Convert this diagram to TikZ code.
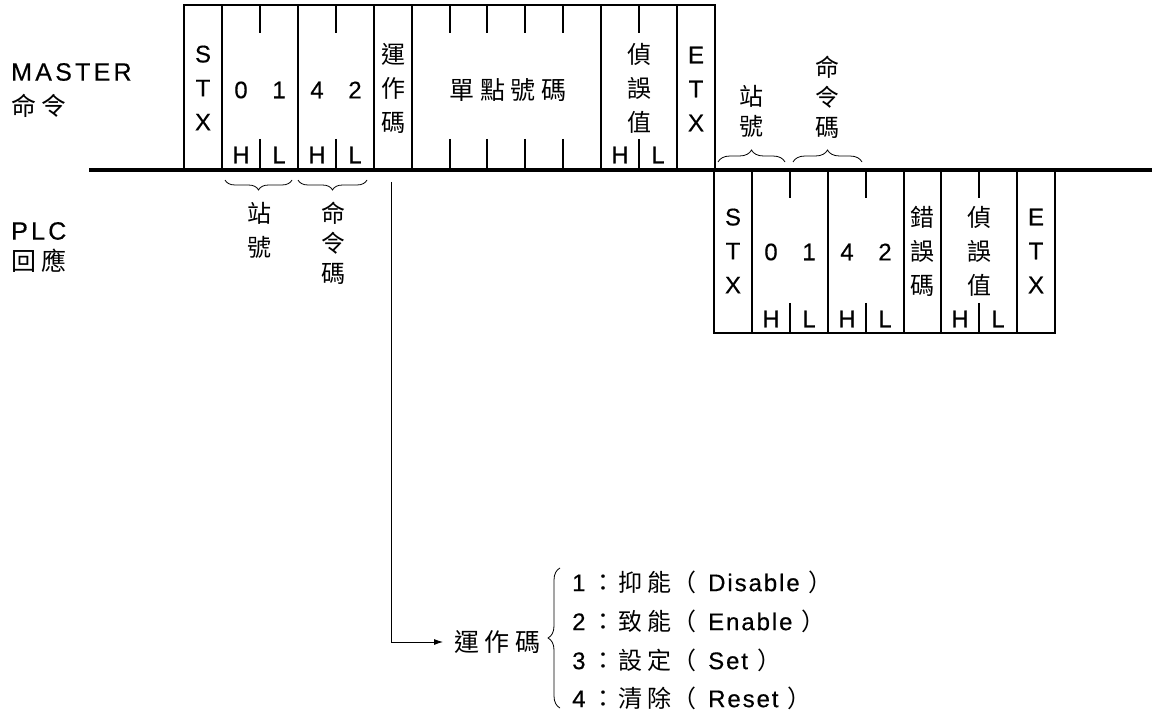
\documentclass[tikz,border=0pt]{standalone}
\usepackage{fontspec}
\setmainfont{Liberation Sans}[LetterSpace=8, FakeBold=0.4]
\newfontfamily\latn{Liberation Sans}[FakeBold=0.4]
\newfontfamily\latw{Liberation Sans}[LetterSpace=13, FakeBold=0.4]
\newfontfamily\cjk{Noto Sans CJK TC}[LetterSpace=22]
\newfontfamily\cjkn{Noto Sans CJK TC}
\newcommand\optrow[3]{\makebox[19pt][l]{\latn #1}\makebox[27pt][l]{\cjkn ：}\makebox[54pt][l]{\cjk #2}\makebox[36pt][l]{\cjkn （}#3\hspace{9pt}{\cjkn ）}}
\usetikzlibrary{decorations.pathreplacing,arrows.meta}
\tikzset{
  frame/.style={line width=2pt},
  bus/.style={line width=4pt},
  lat/.style={font=\latn\fontsize{24}{34}\selectfont, inner sep=0pt, align=center},
  latw/.style={font=\latw\fontsize{25}{34}\selectfont, inner sep=0pt, align=center},
  cj/.style={font=\cjkn\fontsize{24}{34}\selectfont, inner sep=0pt, align=center},
  cjw/.style={font=\cjk\fontsize{25}{34}\selectfont, inner sep=0pt, align=center},
  cjt/.style={font=\cjkn\fontsize{24}{30}\selectfont, inner sep=0pt, align=center},
  brc/.style={decorate, decoration={brace, amplitude=10pt}, line width=0.8pt},
  brcu/.style={decorate, decoration={brace, amplitude=12pt}, line width=0.8pt},
  conn/.style={line width=0.8pt, -{Latex[length=9pt,width=6pt]}},
  item/.style={font=\fontsize{24}{26}\selectfont, inner sep=0pt, anchor=west},
}
\begin{document}
\begin{tikzpicture}[x=1pt,y=-1pt]
\useasboundingbox (0,0) rectangle (1152,714);
% left labels
\node[latw, anchor=west] (master) at (11,72) {MASTER};
\node[cjw, anchor=west] (mcmd) at (11,106) {命令};
\node[latw, anchor=west] (plc) at (11,231) {PLC};
\node[cjw, anchor=west] (presp) at (11,261) {回應};
% bus line
\draw[bus] (89,170) -- (1152,170);
% master frame
\draw[frame] (184,170) -- (184,5) -- (715,5) -- (715,170);
\foreach \i in {1,3,5,6,11,13} \draw[frame] ({184+37.93*\i},5) -- ({184+37.93*\i},170);
\foreach \i in {2,4,7,8,9,10,12} {
  \draw[frame] ({184+37.93*\i},5) -- ({184+37.93*\i},33);
  \draw[frame] ({184+37.93*\i},139) -- ({184+37.93*\i},170);
}
\node[lat] (mstx) at (203,88) {S\\T\\X};
\node[lat] (md0) at (241,90) {0};
\node[lat] (md1) at (279,90) {1};
\node[lat] (md4) at (317,90) {4};
\node[lat] (md2) at (355,90) {2};
\node[lat] (mh1) at (241,155) {H};
\node[lat] (ml1) at (279,155) {L};
\node[lat] (mh2) at (317,155) {H};
\node[lat] (ml2) at (355,155) {L};
\node[cj] (mop) at (393,88) {運\\作\\碼};
\node[cjw] (mpt) at (508,90) {單點號碼};
\node[cj] (mchk) at (639,88) {偵\\誤\\值};
\node[lat] (mh3) at (620,155) {H};
\node[lat] (ml3) at (658,155) {L};
\node[lat] (metx) at (696,89) {E\\T\\X};
% braces under master
\draw[brc] (292,180) -- (225,180);
\draw[brc] (367,180) -- (298,180);
\node[cj] (mst) at (259,230) {站\\號};
\node[cjt] (mcc) at (333,243) {命\\令\\碼};
% response frame
\draw[frame] (714,170) -- (714,333) -- (1055,333) -- (1055,170);
\foreach \i in {1,3,5,6,8} \draw[frame] ({714+37.9*\i},170) -- ({714+37.9*\i},333);
\foreach \i in {2,4,7} {
  \draw[frame] ({714+37.9*\i},170) -- ({714+37.9*\i},198);
  \draw[frame] ({714+37.9*\i},303) -- ({714+37.9*\i},333);
}
\node[lat] (rstx) at (733,251) {S\\T\\X};
\node[lat] (rd0) at (771,252) {0};
\node[lat] (rd1) at (809,252) {1};
\node[lat] (rd4) at (847,252) {4};
\node[lat] (rd2) at (885,252) {2};
\node[lat] (rh1) at (771,319) {H};
\node[lat] (rl1) at (809,319) {L};
\node[lat] (rh2) at (847,319) {H};
\node[lat] (rl2) at (885,319) {L};
\node[cj] (rerr) at (922,251) {錯\\誤\\碼};
\node[cj] (rchk) at (979,251) {偵\\誤\\值};
\node[lat] (rh3) at (960,319) {H};
\node[lat] (rl3) at (998,319) {L};
\node[lat] (retx) at (1036,251) {E\\T\\X};
% braces over response
\draw[brcu] (718,162) -- (785,162);
\draw[brcu] (793,162) -- (862,162);
\node[cjt] (rst) at (751,111) {站\\號};
\node[cjt] (rcc) at (827,97) {命\\令\\碼};
% operation code
\coordinate (opstart) at (391,182);
\node[cjw, anchor=west, inner xsep=11pt] (oplabel) at (443,642) {運作碼};
\draw[conn] (opstart) |- (oplabel.west);
\draw[brc, decoration={amplitude=12pt}] (560,708) -- (560,568);
\node[item] (opt1) at (572,582) {\optrow{1}{抑能}{Disable}};
\node[item] (opt2) at (572,621) {\optrow{2}{致能}{Enable}};
\node[item] (opt3) at (572,660) {\optrow{3}{設定}{Set}};
\node[item] (opt4) at (572,698) {\optrow{4}{清除}{Reset}};
\end{tikzpicture}
\end{document}
